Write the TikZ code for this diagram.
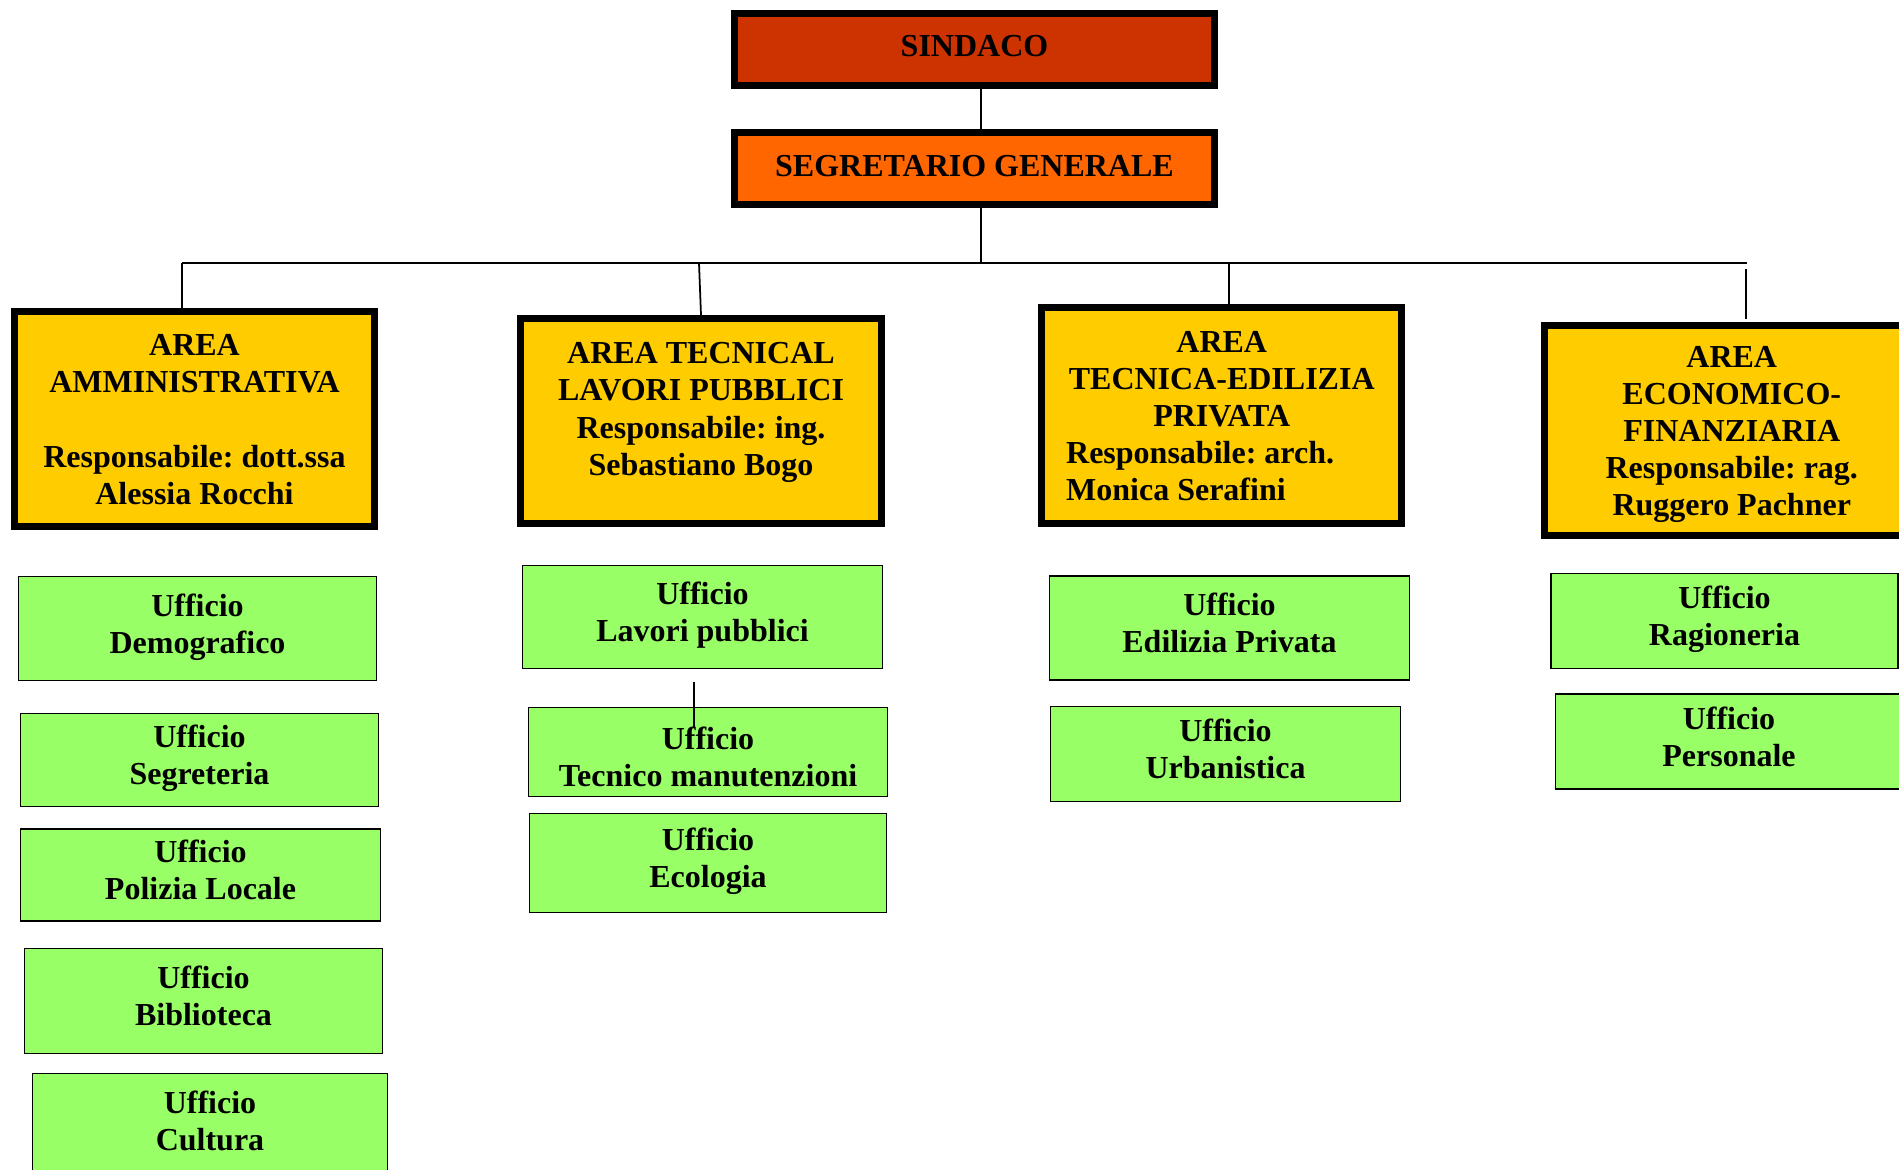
\documentclass[tikz,border=0pt]{standalone}
\usepackage{fontspec}
\setmainfont{Liberation Serif}
\frenchspacing
\definecolor{rossosindaco}{HTML}{CC3300}
\definecolor{arancio}{HTML}{FF6600}
\definecolor{giallo}{HTML}{FFCC00}
\definecolor{verde}{HTML}{99FF66}
\newcommand{\rigastrut}{\vrule height 0.28cm depth 0.10cm width 0pt}
\newcommand{\areastrut}[1][0.32cm]{\vrule height #1 depth 0pt width 0pt}

\begin{document}
\begin{tikzpicture}[x=0.01cm,y=-0.01cm,
  every node/.style={font=\bfseries\fontsize{9.1pt}{10.53pt}\selectfont, inner sep=0pt},
  vertice/.style={draw, line width=2pt, minimum width=4.8cm, minimum height=0.72cm, text height=0.26cm, text depth=0.11cm},
  area/.style={draw, line width=2pt, fill=giallo, align=center, execute at end node=\rigastrut},
  ufficio/.style={draw, line width=0.45pt, fill=verde, align=center, execute at end node=\rigastrut},
  linea/.style={line width=0.5pt}]
\useasboundingbox (0,0) rectangle (1899,1170);
\clip (0,0) rectangle (1899,1170);

% top of the chart
\node[vertice, fill=rossosindaco] (sindaco) at (974.5,49.5) {SINDACO};
\node[vertice, fill=arancio] (segretario) at (974.5,168.5) {SEGRETARIO GENERALE};

% areas
\node[area, minimum width=3.60cm, minimum height=2.15cm] (amministrativa) at (194.5,419)
  {\areastrut AREA\\AMMINISTRATIVA\\\mbox{}\\Responsabile: dott.ssa\\Alessia Rocchi};
\node[area, minimum width=3.61cm, minimum height=2.05cm] (tecnical) at (701,421)
  {\areastrut[0.44cm]AREA TECNICAL\\LAVORI PUBBLICI\\Responsabile: ing.\\Sebastiano Bogo\\};
\node[area, minimum width=3.595cm, minimum height=2.16cm] (edilizia) at (1221.75,415.5)
  {\areastrut AREA\\TECNICA-EDILIZIA\\PRIVATA\\\makebox[3.11cm][l]{Responsabile: arch.}\\\makebox[3.11cm][l]{Monica Serafini}};
\node[area, minimum width=3.735cm, minimum height=2.10cm] (economico) at (1731.75,430.5)
  {\areastrut AREA\\ECONOMICO-\\FINANZIARIA\\Responsabile: rag.\\Ruggero Pachner};

% first column
\node[ufficio, minimum width=3.58cm, minimum height=1.04cm] (demografico) at (197.5,628.5) {Ufficio\\Demografico};
\node[ufficio, minimum width=3.58cm, minimum height=0.93cm] (segreteria) at (199.5,760) {Ufficio\\Segreteria};
\node[ufficio, minimum width=3.60cm, minimum height=0.92cm] (polizia) at (200.5,875) {Ufficio\\Polizia Locale};
\node[ufficio, minimum width=3.58cm, minimum height=1.05cm] (biblioteca) at (203.5,1001) {Ufficio\\Biblioteca};
\node[ufficio, minimum width=3.55cm, minimum height=1.04cm] (cultura) at (210,1125.5) {Ufficio\\Cultura};

% second column
\node[ufficio, minimum width=3.60cm, minimum height=1.03cm] (lavori) at (702.5,617) {Ufficio\\Lavori pubblici};
\node[ufficio, minimum width=3.59cm, minimum height=0.89cm] (manutenzioni) at (708,752) {\areastrut[0.42cm]Ufficio\\Tecnico manutenzioni};
\node[ufficio, minimum width=3.57cm, minimum height=0.99cm] (ecologia) at (708,863) {Ufficio\\Ecologia};

% third column
\node[ufficio, minimum width=3.60cm, minimum height=1.04cm] (privata) at (1229.5,628) {Ufficio\\Edilizia Privata};
\node[ufficio, minimum width=3.50cm, minimum height=0.95cm] (urbanistica) at (1225.5,754) {Ufficio\\Urbanistica};

% fourth column
\node[ufficio, minimum width=3.47cm, minimum height=0.95cm] (ragioneria) at (1724.5,621) {Ufficio\\Ragioneria};
\node[ufficio, minimum width=3.47cm, minimum height=0.95cm] (personale) at (1729,741.5) {Ufficio\\Personale};

% lines
\draw[linea] ([xshift=0.065cm]sindaco.south) -- ([xshift=0.065cm]segretario.north);
\draw[linea] ([xshift=0.065cm]segretario.south) -- ++(0,55);
\coordinate (bus-sx) at (182,263);
\coordinate (bus-dx) at (1747,263);
\draw[linea] (bus-sx) -- (bus-dx);
\draw[linea] (bus-sx) -- (bus-sx |- amministrativa.north);
\draw[linea] (tecnical.north) -- ++(-2,-52);
\draw[linea] ([xshift=0.0725cm]edilizia.north) -- ++(0,-41);
\draw[linea] ([shift={(0.14cm,0.03cm)}]economico.north) -- ++(0,-50);
\draw[linea] ([shift={(-0.085cm,-0.125cm)}]lavori.south) -- ++(0,45.5);
\end{tikzpicture}
\end{document}
